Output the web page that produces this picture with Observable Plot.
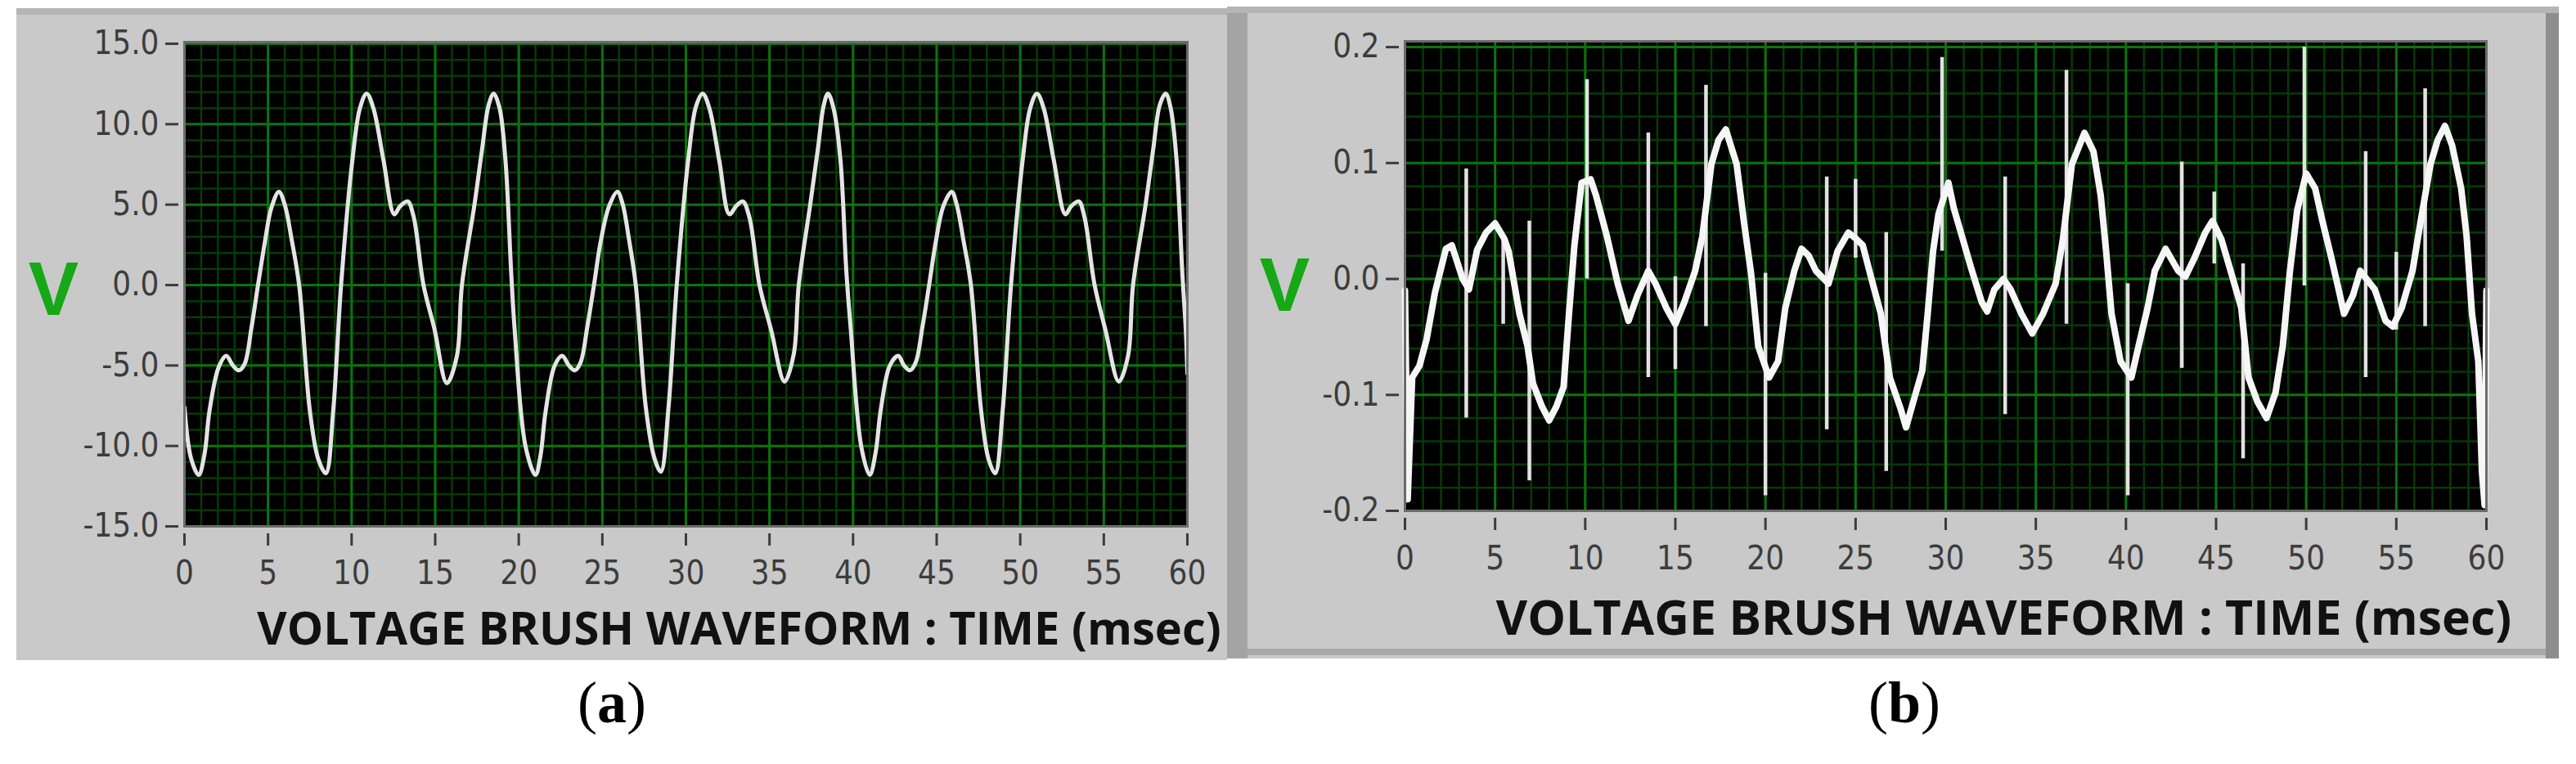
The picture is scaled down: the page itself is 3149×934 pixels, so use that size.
<!DOCTYPE html>
<html>
<head>
<meta charset="utf-8">
<script src="https://cdn.jsdelivr.net/npm/d3@7"></script>
<script src="https://cdn.jsdelivr.net/npm/@observablehq/plot@0.6"></script>
<style>
  html, body { margin: 0; padding: 0; background: #ffffff; }
  #page { position: relative; width: 3149px; height: 934px; overflow: hidden; background: #fff; }
  .panel { position: absolute; }
  .cap { position: absolute; font-family: "Liberation Serif", "DejaVu Serif", serif; font-size: 72px; line-height: 72px; color: #000; transform: translateX(-50%); white-space: nowrap; }
  .plotbox { position: absolute; top: 0; }
</style>
</head>
<body>
<div id="page">
  <div class="panel" style="left:20px;top:10px;width:1480px;height:797px;background:#c9c9c9;"></div>
  <div class="panel" style="left:20px;top:10px;width:1480px;height:8px;background:#b5b5b5;"></div>
  <div class="panel" style="left:1500px;top:8px;width:1628px;height:797px;background:#c9c9c9;"></div>
  <div class="panel" style="left:1500px;top:8px;width:1628px;height:8px;background:#b5b5b5;"></div>
  <div class="panel" style="left:1500px;top:16px;width:25px;height:789px;background:#a4a4a4;"></div>
  <div class="panel" style="left:3112px;top:16px;width:16px;height:789px;background:#8e8e8e;"></div>
  <div class="panel" style="left:1525px;top:793px;width:1587px;height:8px;background:#a9a9a9;"></div>
  <div id="plotA" class="plotbox" style="left:0px;"></div>
  <div id="plotB" class="plotbox" style="left:1500px;"></div>
  <div class="cap" style="left:748px;top:823px;">(<b>a</b>)</div>
  <div class="cap" style="left:2328px;top:823px;">(<b>b</b>)</div>
</div>
<script>
// ---------- data: panel (a) smooth brush voltage (V) vs time (ms) ----------
const timeA = [
  0, 0.4, 0.85, 1.2, 1.5, 2.05, 2.5, 2.9, 3.25, 3.6, 4.0, 4.4, 4.8, 5.2, 5.65, 6.0, 6.4, 6.86, 7.5, 8.0, 8.46,
  8.9, 9.37, 10.05, 10.5, 10.9, 11.3, 11.9, 12.55, 12.9, 13.35, 13.7, 14.3, 14.95, 15.7, 16.3, 16.6, 17.35, 17.8,
  18.2, 18.5, 18.85, 19.2, 19.55, 19.75, 20.4, 21.0,
  21.3, 21.6, 22.15, 22.6, 23.0, 23.35, 23.7, 24.1, 24.5, 24.9, 25.4, 25.9, 26.2, 26.6, 27.0, 27.6, 28.1, 28.5,
  28.95, 29.45, 30.15, 30.6, 31.0, 31.4, 32.0, 32.6, 33.0, 33.4, 33.8, 34.4, 35.1, 35.9, 36.45, 36.75, 37.45, 37.9,
  38.25, 38.5, 38.85, 39.25, 39.6, 39.85, 40.5, 41.0,
  41.35, 41.65, 42.2, 42.7, 43.05, 43.4, 43.75, 44.15, 44.55, 44.95, 45.4, 45.9, 46.2, 46.6, 47.05, 47.65, 48.1, 48.5,
  48.95, 49.45, 50.15, 50.6, 51.0, 51.4, 52.0, 52.7, 53.05, 53.5, 53.85, 54.45, 55.1, 55.9, 56.45, 56.75, 57.5, 57.95,
  58.35, 58.7, 59.0, 59.35, 59.7, 59.9, 60.0
];
const voltA = [
  -7.6, -10.8, -11.8, -10.5, -7.8, -5.1, -4.4, -5.0, -5.3, -4.9, -2.7, 0.0, 2.6, 4.8, 5.8, 5.0, 2.9, 0.0, -7.8, -10.8, -11.7,
  -7.8, 0.0, 7.8, 11.0, 11.9, 11.0, 7.8, 4.4, 4.9, 5.2, 4.3, 0.0, -2.7, -6.1, -4.4, 0.0, 5.0, 8.4,
  11.2, 11.9, 11.0, 7.8, 0.7, -2.7, -10.0, -11.8,
  -10.6, -7.9, -5.0, -4.4, -5.0, -5.3, -4.8, -2.6, 0.0, 2.7, 4.9, 5.8, 5.1, 2.8, 0.0, -7.6, -10.7, -11.6,
  -7.7, 0.0, 7.9, 11.1, 11.9, 11.0, 7.7, 4.4, 4.9, 5.2, 4.2, 0.0, -2.8, -6.0, -4.3, 0.0, 5.1, 8.5,
  11.2, 11.9, 10.9, 7.7, 0.8, -2.6, -10.1, -11.8,
  -10.4, -7.8, -5.0, -4.4, -5.0, -5.3, -4.8, -2.6, 0.0, 2.7, 4.9, 5.8, 5.0, 2.8, 0.0, -7.7, -10.8, -11.7,
  -7.8, 0.0, 7.8, 11.0, 11.9, 11.0, 7.8, 4.4, 4.9, 5.2, 4.2, 0.0, -2.8, -6.0, -4.4, 0.0, 5.0, 8.4,
  11.2, 11.9, 11.0, 7.8, 0.7, -2.7, -5.5
];

// ---------- data: panel (b) noisy brush voltage (V) vs time (ms) ----------
const timeB = [
  0, 0.15, 0.4, 0.8, 1.2, 1.66, 2.27, 2.6, 3.2, 3.55, 4.0, 4.5, 5.0, 5.5, 5.75, 6.35, 6.8, 7.1, 7.6, 8.0, 8.4, 8.8,
  9.1, 9.4, 9.8, 10.3, 10.6, 11.2, 11.8, 12.4, 12.9, 13.5, 13.9, 14.5, 15.0, 15.5, 16.1, 16.5, 17.0, 17.4, 17.8,
  18.4, 18.8, 19.2, 19.6, 20.2, 20.7, 21.1, 21.6, 22.0, 22.4, 22.8, 23.5, 24.0, 24.6, 25.0, 25.4, 25.8, 26.4, 26.9,
  27.5, 27.8, 28.2, 28.7, 29.0, 29.3, 29.6, 30.15, 30.45, 30.9, 31.4, 32.0, 32.3, 32.7, 33.2, 33.6, 34.2, 34.8,
  35.4, 36.1, 36.5, 37.0, 37.7, 38.2, 38.6, 38.9, 39.2, 39.7, 40.3, 40.7, 41.2, 41.6, 42.2, 42.9, 43.3, 43.8, 44.4,
  44.8, 45.3, 45.9, 46.4, 46.8, 47.3, 47.8, 48.3, 48.7, 49.1, 49.5, 50.0, 50.5, 50.9, 51.4, 51.8, 52.1, 52.6, 53.0,
  53.8, 54.4, 54.8, 55.3, 55.9, 56.3, 56.9, 57.3, 57.7, 58.1, 58.6, 58.9, 59.2, 59.55, 59.75, 59.9, 60.0
];
const voltB = [
  -0.01, -0.19, -0.085, -0.075, -0.052, -0.012, 0.026, 0.029, 0.0, -0.009, 0.025, 0.04, 0.048, 0.035, 0.024, -0.03, -0.058, -0.09, -0.11, -0.122, -0.11, -0.093,
  -0.03, 0.029, 0.083, 0.086, 0.072, 0.037, -0.004, -0.036, -0.014, 0.007, -0.004, -0.025, -0.039, -0.02, 0.007, 0.037, 0.099, 0.12, 0.129,
  0.099, 0.05, 0.005, -0.058, -0.085, -0.071, -0.025, 0.007, 0.026, 0.02, 0.007, -0.004, 0.024, 0.04, 0.035, 0.029, 0.005, -0.03, -0.085,
  -0.112, -0.128, -0.106, -0.079, -0.03, 0.024, 0.056, 0.083, 0.061, 0.037, 0.01, -0.02, -0.028, -0.009, 0.0, -0.009, -0.03, -0.047,
  -0.03, -0.004, 0.034, 0.099, 0.126, 0.11, 0.072, 0.024, -0.03, -0.071, -0.085, -0.058, -0.025, 0.007, 0.026, 0.007, 0.002, 0.018, 0.04,
  0.05, 0.034, 0.002, -0.025, -0.085, -0.106, -0.12, -0.098, -0.058, 0.007, 0.059, 0.091, 0.078, 0.05, 0.018, -0.009, -0.03, -0.014, 0.007,
  -0.009, -0.036, -0.041, -0.025, 0.007, 0.045, 0.099, 0.12, 0.132, 0.115, 0.078, 0.037, -0.03, -0.071, -0.166, -0.195, -0.01
];
// spikes superimposed on (b): time, top, bottom
const spikeT   = [3.4, 5.45, 6.9, 10.1, 13.5, 15.0, 16.7, 20.0, 23.4, 25.0, 26.7, 29.8, 33.3, 36.7, 40.1, 43.1, 44.9, 46.5, 49.9, 53.3, 55.0, 56.6];
const spikeTop = [0.095, 0.037, 0.05, 0.172, 0.126, 0.002, 0.167, 0.005, 0.088, 0.086, 0.04, 0.191, 0.088, 0.18, -0.004, 0.101, 0.075, 0.013, 0.2, 0.11, 0.023, 0.164];
const spikeBot = [-0.12, -0.039, -0.174, 0.0, -0.085, -0.078, -0.041, -0.187, -0.13, 0.018, -0.166, 0.024, -0.117, -0.039, -0.187, -0.077, 0.013, -0.155, -0.006, -0.085, -0.044, -0.041];

// ---------- tick labels ----------
const xTicks = [0, 5, 10, 15, 20, 25, 30, 35, 40, 45, 50, 55, 60];
const yTicksA = [-15, -10, -5, 0, 5, 10, 15];
const yTicksB = [-0.2, -0.1, 0, 0.1, 0.2];
const xTitle = "VOLTAGE BRUSH WAVEFORM : TIME (msec)";
const yTitle = "V";

const tickFont = '"Liberation Sans Narrow", "DejaVu Sans Condensed", "Liberation Sans", sans-serif';
const titleFont = '"Open Sans", "Liberation Sans", sans-serif';
const majorGrid = "#0c730c", minorGrid = "#063a06";

const minorX = d3.range(0, 60.001, 1);
const minorYA = d3.range(-15, 15.001, 1);
const minorYB = d3.range(-20, 20.5, 2).map(v => v / 100);

function scope({width, height, ml, mr, mt, mb, yDomain, yTicks, minorY, lineMarks, tickPad, titleDx, titleDy, titleSize, vDx, vDy}) {
  return Plot.plot({
    width, height,
    marginLeft: ml, marginRight: mr, marginTop: mt, marginBottom: mb,
    x: {domain: [0, 60]},
    y: {domain: yDomain},
    style: {background: "transparent", overflow: "visible"},
    marks: [
      Plot.frame({fill: "#000"}),
      Plot.ruleX(minorX, {stroke: minorGrid, strokeWidth: 2.5}),
      Plot.ruleY(minorY, {stroke: minorGrid, strokeWidth: 2.5}),
      Plot.ruleX(xTicks, {stroke: majorGrid, strokeWidth: 3}),
      Plot.ruleY(yTicks, {stroke: majorGrid, strokeWidth: 3}),
      ...lineMarks,
      Plot.frame({stroke: "#6b6b6b", strokeWidth: 3}),
      Plot.axisX(xTicks, {tickSize: 15, dy: 9, tickPadding: tickPad, fontSize: 40, fontFamily: tickFont, color: "#3c3c3c", strokeWidth: 3, tickFormat: d => String(d), label: null}),
      Plot.axisY(yTicks, {tickSize: 16, dx: -7, tickPadding: 8, fontSize: 40, fontFamily: tickFont, color: "#3c3c3c", strokeWidth: 3, tickFormat: d => d.toFixed(1), label: null}),
      Plot.text([xTitle], {text: d => d, frameAnchor: "bottom", dx: titleDx, dy: titleDy, fontSize: titleSize, fontWeight: "bold", fontFamily: titleFont, fill: "#111"}),
      Plot.text([yTitle], {text: d => d, frameAnchor: "left", dx: vDx, dy: vDy, fontSize: 92, fontWeight: "bold", fontFamily: '"Liberation Sans", Arial, sans-serif', fill: "#16a816", textAnchor: "middle"})
    ]
  });
}

const idxA = d3.range(timeA.length);
const plotA = scope({
  width: 1500, height: 810, ml: 225, mr: 49, mt: 51, mb: 167,
  yDomain: [-15, 15.1], yTicks: yTicksA, minorY: minorYA,
  lineMarks: [Plot.line(idxA, {x: i => timeA[i], y: i => voltA[i], stroke: "#e4e4e4", strokeWidth: 5, curve: "catmull-rom"})],
  tickPad: 18, titleDx: 65, titleDy: 144, titleSize: 56, vDx: -160, vDy: 8
});
document.getElementById("plotA").appendChild(plotA);

const idxB = d3.range(timeB.length);
const idxS = d3.range(spikeT.length);
const plotB = scope({
  width: 1649, height: 810, ml: 217, mr: 110, mt: 50, mb: 186,
  yDomain: [-0.2, 0.205], yTicks: yTicksB, minorY: minorYB,
  lineMarks: [
    Plot.ruleX(idxS, {x: i => spikeT[i], y1: i => spikeTop[i], y2: i => spikeBot[i], stroke: "#e2e2e2", strokeWidth: 4.5}),
    Plot.line(idxB, {x: i => timeB[i], y: i => voltB[i], stroke: "#f6f6f6", strokeWidth: 8, curve: "linear"})
  ],
  tickPad: 19, titleDx: 71, titleDy: 151, titleSize: 59, vDx: -147, vDy: 13
});
document.getElementById("plotB").appendChild(plotB);
</script>
</body>
</html>
